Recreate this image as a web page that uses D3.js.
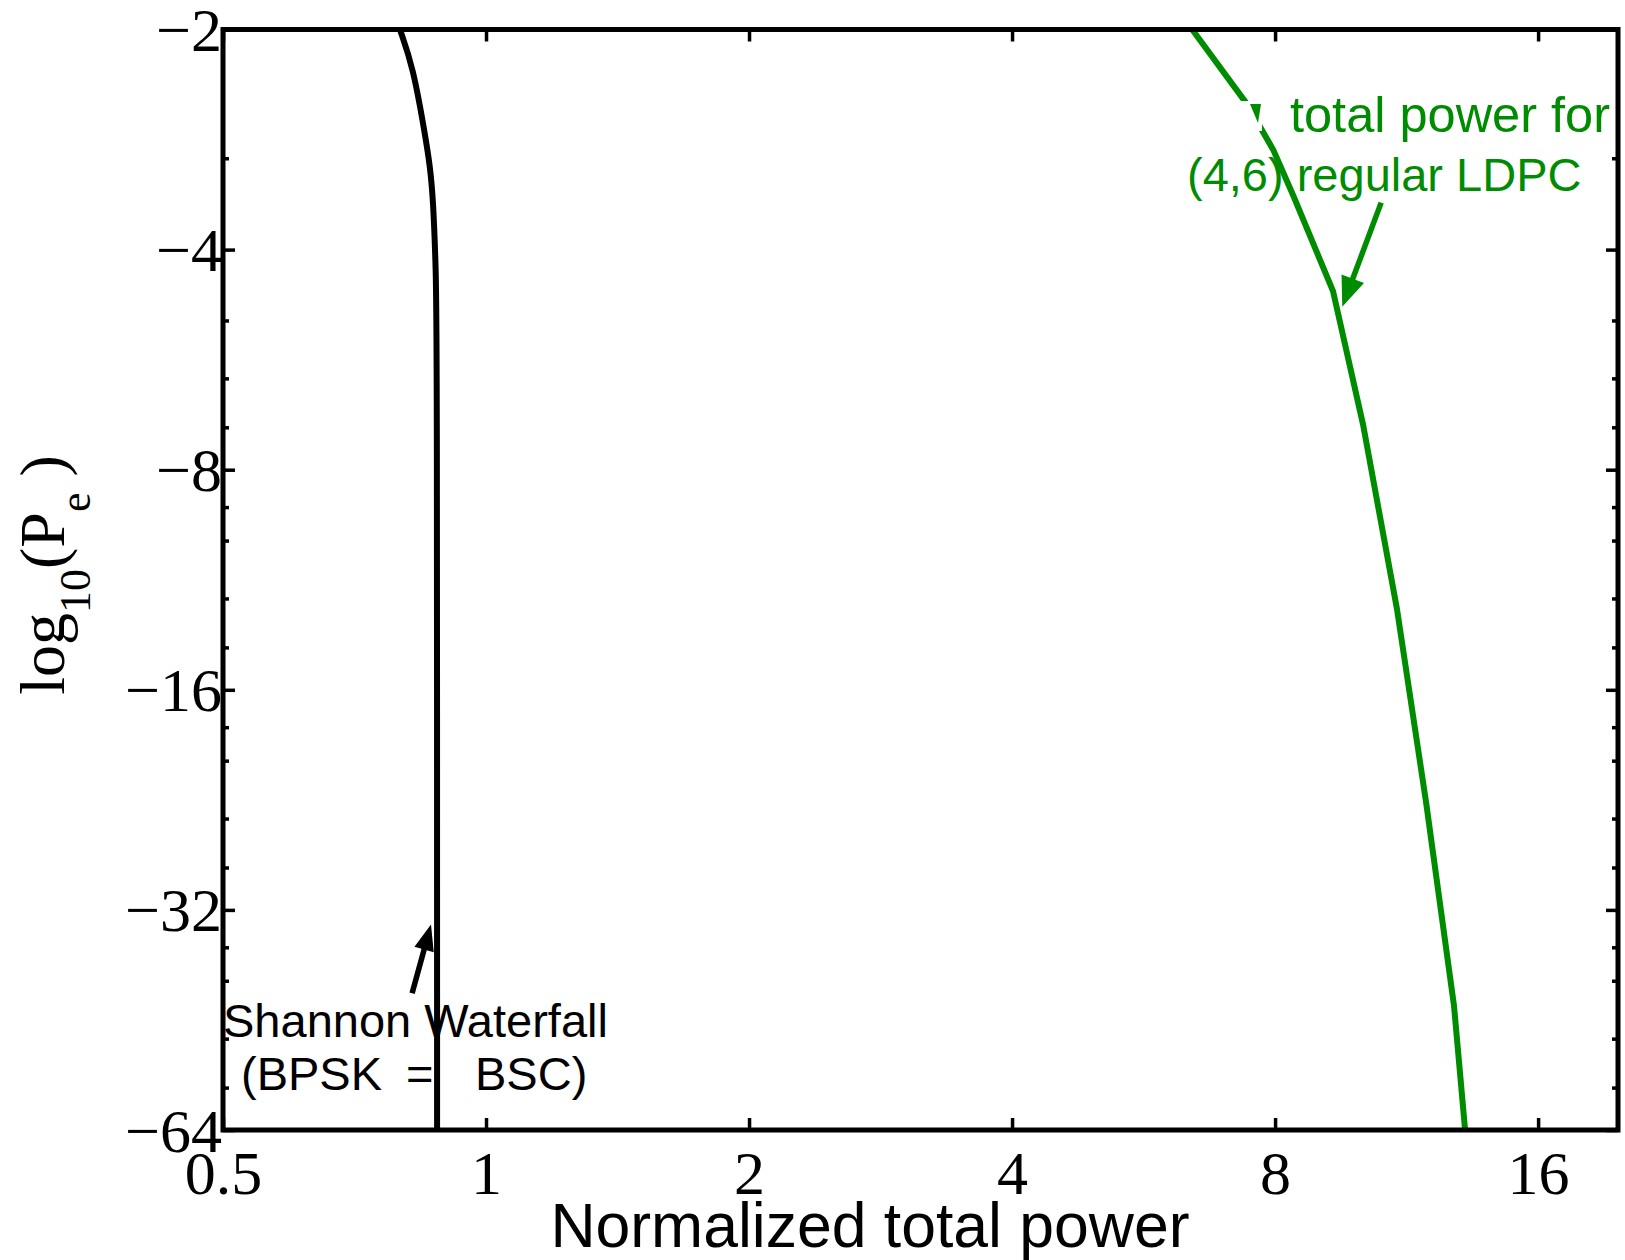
<!DOCTYPE html>
<html><head><meta charset="utf-8">
<script src="https://cdn.jsdelivr.net/npm/d3@7"></script>
<style>body{margin:0;background:#fff}svg{display:block}</style>
</head><body><svg id="c" width="1625" height="1260"></svg>
<script>
// ---- data ----
const xTicks = [0.5, 1, 2, 4, 8, 16];
const xTickLabels = ["0.5", "1", "2", "4", "8", "16"];
const yTicks = [2, 4, 8, 16, 32, 64];
const yTickLabels = ["\u22122", "\u22124", "\u22128", "\u221216", "\u221232", "\u221264"];
const yMinorTicks = [3, 5, 6, 7, 9, 10, 12, 14, 18, 20, 24, 28, 36, 40, 48, 56];

// Shannon waterfall (BPSK = BSC): normalized total power vs -log10(Pe)
const shannonPower   = [0.797, 0.825, 0.851, 0.863, 0.870, 0.876, 0.879, 0.879];
const shannonNegLogPe = [2, 2.25, 2.77, 3.08, 3.42, 4.23, 5.2, 64];

// (4,6) regular LDPC total power
const ldpcPower    = [6.43, 7.43, 7.96, 8.39, 9.32, 10.09, 11.03, 11.91, 12.82, 13.20];
const ldpcNegLogPe = [2, 2.53, 2.92, 3.37, 4.56, 6.95, 12.4, 22.8, 43.3, 64];

// annotation arrows (data units: tail, tip)
const ldpcArrowPower = [10.58, 9.55];
const ldpcArrowNegLogPe = [3.45, 4.79];
const shannonArrowPower = [0.823, 0.865];
const shannonArrowNegLogPe = [41.6, 33.5];

// ---- layout ----
const L = 223, R = 1618, T = 29.5, B = 1130;
const GREEN = "#008c00";
const svg = d3.select("#c");

const x = d3.scaleLog().base(2).domain([0.5, 19.75]).range([L, R]);
const y = d3.scaleLog().base(2).domain([2, 64]).range([T, B]);

svg.append("defs").append("clipPath").attr("id", "clip")
  .append("rect").attr("x", L).attr("y", T).attr("width", R - L).attr("height", B - T);

// curves
const plot = svg.append("g").attr("clip-path", "url(#clip)");
const shannon = shannonPower.map((p, i) => ({p, v: shannonNegLogPe[i]}));
const ldpc = ldpcPower.map((p, i) => ({p, v: ldpcNegLogPe[i]}));

plot.append("path").datum(shannon)
  .attr("d", d3.line().x(d => x(d.p)).y(d => y(d.v)).curve(d3.curveBasis))
  .attr("fill", "none").attr("stroke", "#000").attr("stroke-width", 6);

plot.append("path").datum(ldpc)
  .attr("d", d3.line().x(d => x(d.p)).y(d => y(d.v)))
  .attr("fill", "none").attr("stroke", GREEN).attr("stroke-width", 6)
  .attr("stroke-linejoin", "round");

// white patch of the text box partially hiding the green curve + small arrowhead
plot.append("rect").attr("x", 1238).attr("y", 101).attr("width", 24).attr("height", 30).attr("fill", "#fff");
plot.append("path").attr("d", "M1250,104 L1261,104 L1258,123 Z").attr("fill", GREEN);

// axes ticks
function styleAxis(g) {
  g.select(".domain").remove();
  g.selectAll(".tick line").attr("stroke", "#000").attr("stroke-width", 3.5);
}
const SERIF = "'Liberation Serif','Times New Roman',serif";
svg.append("g").attr("transform", `translate(0,${B})`)
  .call(d3.axisBottom(x).tickValues(xTicks).tickSizeInner(-12).tickSizeOuter(0)
    .tickFormat((d, i) => xTickLabels[i]))
  .call(styleAxis)
  .call(g => g.selectAll(".tick text").attr("y", 64).attr("dy", null)
    .attr("font-family", SERIF).attr("font-size", 62).attr("fill", "#000"));
svg.append("g").attr("transform", `translate(0,${T})`)
  .call(d3.axisTop(x).tickValues(xTicks).tickSizeInner(-12).tickSizeOuter(0).tickFormat(""))
  .call(styleAxis);

svg.append("g").attr("transform", `translate(${L},0)`)
  .call(d3.axisLeft(y).tickValues(yTicks).tickSizeInner(-12).tickSizeOuter(0)
    .tickFormat((d, i) => yTickLabels[i]))
  .call(styleAxis)
  .call(g => g.selectAll(".tick text").attr("x", -1).attr("dy", "0.34em")
    .attr("font-family", SERIF).attr("font-size", 62).attr("fill", "#000"));
svg.append("g").attr("transform", `translate(${L},0)`)
  .call(d3.axisLeft(y).tickValues(yMinorTicks).tickSizeInner(-6).tickSizeOuter(0).tickFormat(""))
  .call(styleAxis);
svg.append("g").attr("transform", `translate(${R},0)`)
  .call(d3.axisRight(y).tickValues(yTicks).tickSizeInner(-12).tickSizeOuter(0).tickFormat(""))
  .call(styleAxis);
svg.append("g").attr("transform", `translate(${R},0)`)
  .call(d3.axisRight(y).tickValues(yMinorTicks).tickSizeInner(-6).tickSizeOuter(0).tickFormat(""))
  .call(styleAxis);

// frame
svg.append("rect").attr("x", L).attr("y", T).attr("width", R - L).attr("height", B - T)
  .attr("fill", "none").attr("stroke", "#000").attr("stroke-width", 5);

// arrows
function arrow(x1, y1, x2, y2, color, len, hw, sw) {
  const a = Math.atan2(y2 - y1, x2 - x1);
  const bx = x2 - len * Math.cos(a), by = y2 - len * Math.sin(a);
  svg.append("line").attr("x1", x1).attr("y1", y1).attr("x2", bx + 4 * Math.cos(a)).attr("y2", by + 4 * Math.sin(a))
    .attr("stroke", color).attr("stroke-width", sw);
  const px = -Math.sin(a), py = Math.cos(a);
  svg.append("path").attr("d", `M${x2},${y2} L${bx + hw * px},${by + hw * py} L${bx - hw * px},${by - hw * py} Z`)
    .attr("fill", color);
}
arrow(x(ldpcArrowPower[0]), y(ldpcArrowNegLogPe[0]), x(ldpcArrowPower[1]), y(ldpcArrowNegLogPe[1]), GREEN, 30, 12, 5.5);
arrow(x(shannonArrowPower[0]), y(shannonArrowNegLogPe[0]), x(shannonArrowPower[1]), y(shannonArrowNegLogPe[1]), "#000", 26, 10, 5.5);

// annotation texts
const SANS = "'Liberation Sans', Arial, Helvetica, sans-serif";
svg.append("text").attr("x", 1290).attr("y", 132).attr("font-family", SANS).attr("font-size", 50.5)
  .attr("fill", GREEN).text("total power for");
svg.append("text").attr("x", 1187).attr("y", 191).attr("font-family", SANS).attr("font-size", 47)
  .attr("fill", GREEN).text("(4,6) regular LDPC");

svg.append("text").attr("x", 223).attr("y", 1037).attr("font-family", SANS).attr("font-size", 47)
  .attr("fill", "#000").text("Shannon Waterfall");
const t2 = svg.append("text").attr("y", 1090).attr("font-family", SANS).attr("font-size", 47).attr("fill", "#000");
t2.append("tspan").attr("x", 241).text("(BPSK");
t2.append("tspan").attr("x", 406).text("=");
t2.append("tspan").attr("x", 475).text("BSC)");

// axis titles
svg.append("text").attr("x", 870).attr("y", 1247).attr("text-anchor", "middle")
  .attr("font-family", SANS).attr("font-size", 62.5).attr("fill", "#000").text("Normalized total power");

const yl = svg.append("text").attr("transform", "translate(64,575) rotate(-90)").attr("text-anchor", "middle")
  .attr("font-family", SERIF).attr("font-size", 64).attr("fill", "#000");
yl.append("tspan").text("log");
yl.append("tspan").attr("font-size", 44).attr("dy", 26).text("10");
yl.append("tspan").attr("dy", -26).text("(P");
yl.append("tspan").attr("font-size", 44).attr("dy", 26).text("e");
yl.append("tspan").attr("dy", -26).text("\u00a0)");
</script>
</body></html>
